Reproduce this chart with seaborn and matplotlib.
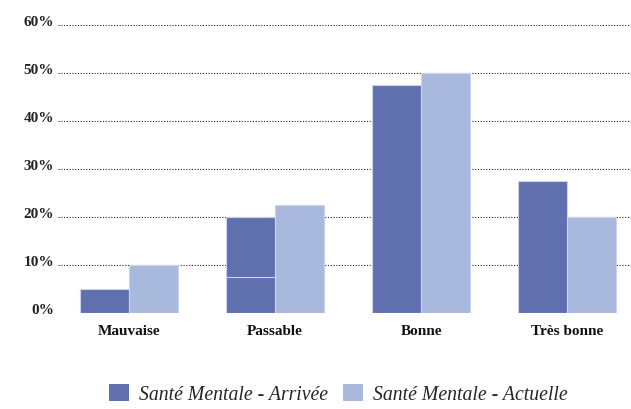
import matplotlib
matplotlib.use("Agg")
import matplotlib.pyplot as plt
import seaborn as sns
import pandas as pd
from matplotlib.patches import Patch

categories = ["Mauvaise", "Passable", "Bonne", "Très bonne"]
series_names = ["Santé Mentale - Arrivée", "Santé Mentale - Actuelle"]
arrivee = [5, 20, 47.5, 27.5]
actuelle = [10, 22.5, 50, 20]
passable_lower_segment = 7.5
y_ticks = [0, 10, 20, 30, 40, 50, 60]
colors = ["#6070ae", "#a9b9dd"]
edge = "#c9d3ec"

df = pd.DataFrame({
    "cat": categories * 2,
    "serie": [series_names[0]] * 4 + [series_names[1]] * 4,
    "val": arrivee + actuelle,
})

sns.set_theme(style="white")
plt.rcParams["font.family"] = ["Liberation Serif", "DejaVu Serif"]

fig = plt.figure(figsize=(6.31, 4.10), dpi=100)
ax = fig.add_axes([0.092, 0.234, 0.908, 0.703])

for y in y_ticks[1:]:
    ax.axhline(y, color="#222222", lw=0.8, ls=(0, (1, 1.5)), zorder=0)

sns.barplot(data=df, x="cat", y="val", hue="serie", palette=colors,
            width=0.665, gap=0, ax=ax, legend=False, saturation=1,
            edgecolor=edge, linewidth=0.8, zorder=2)

# lower segment inside the "Passable" arrival bar
p = ax.patches[1]
ax.bar(p.get_x(), passable_lower_segment, width=p.get_width(), align="edge",
       color=colors[0], edgecolor=edge, linewidth=0.8, zorder=3)

ax.set_xlim(-0.486, 3.438)
ax.set_ylim(0, 60)
ax.set_yticks(y_ticks)
ax.set_yticklabels([f"{v}%" for v in y_ticks], fontweight="bold", fontsize=11, color="#222222")
ax.set_xticks(range(len(categories)))
ax.set_xticklabels(categories, fontweight="bold", fontsize=11, color="#111111")
ax.tick_params(axis="y", length=0, pad=3)
ax.tick_params(axis="x", length=0, pad=8)
for lbl in ax.get_yticklabels():
    lbl.set_verticalalignment("baseline")
ax.set_xlabel("")
ax.set_ylabel("")
for s in ax.spines.values():
    s.set_visible(False)

handles = [Patch(facecolor=c, edgecolor="none") for c in colors]
fig.legend(handles, series_names, loc="lower center", bbox_to_anchor=(0.536, -0.032),
           ncol=2, frameon=False, handlelength=1.0, handleheight=1.0,
           handletextpad=0.5, columnspacing=0.8,
           prop={"style": "italic", "size": 14.2})

fig.savefig("out.png", dpi=100)
